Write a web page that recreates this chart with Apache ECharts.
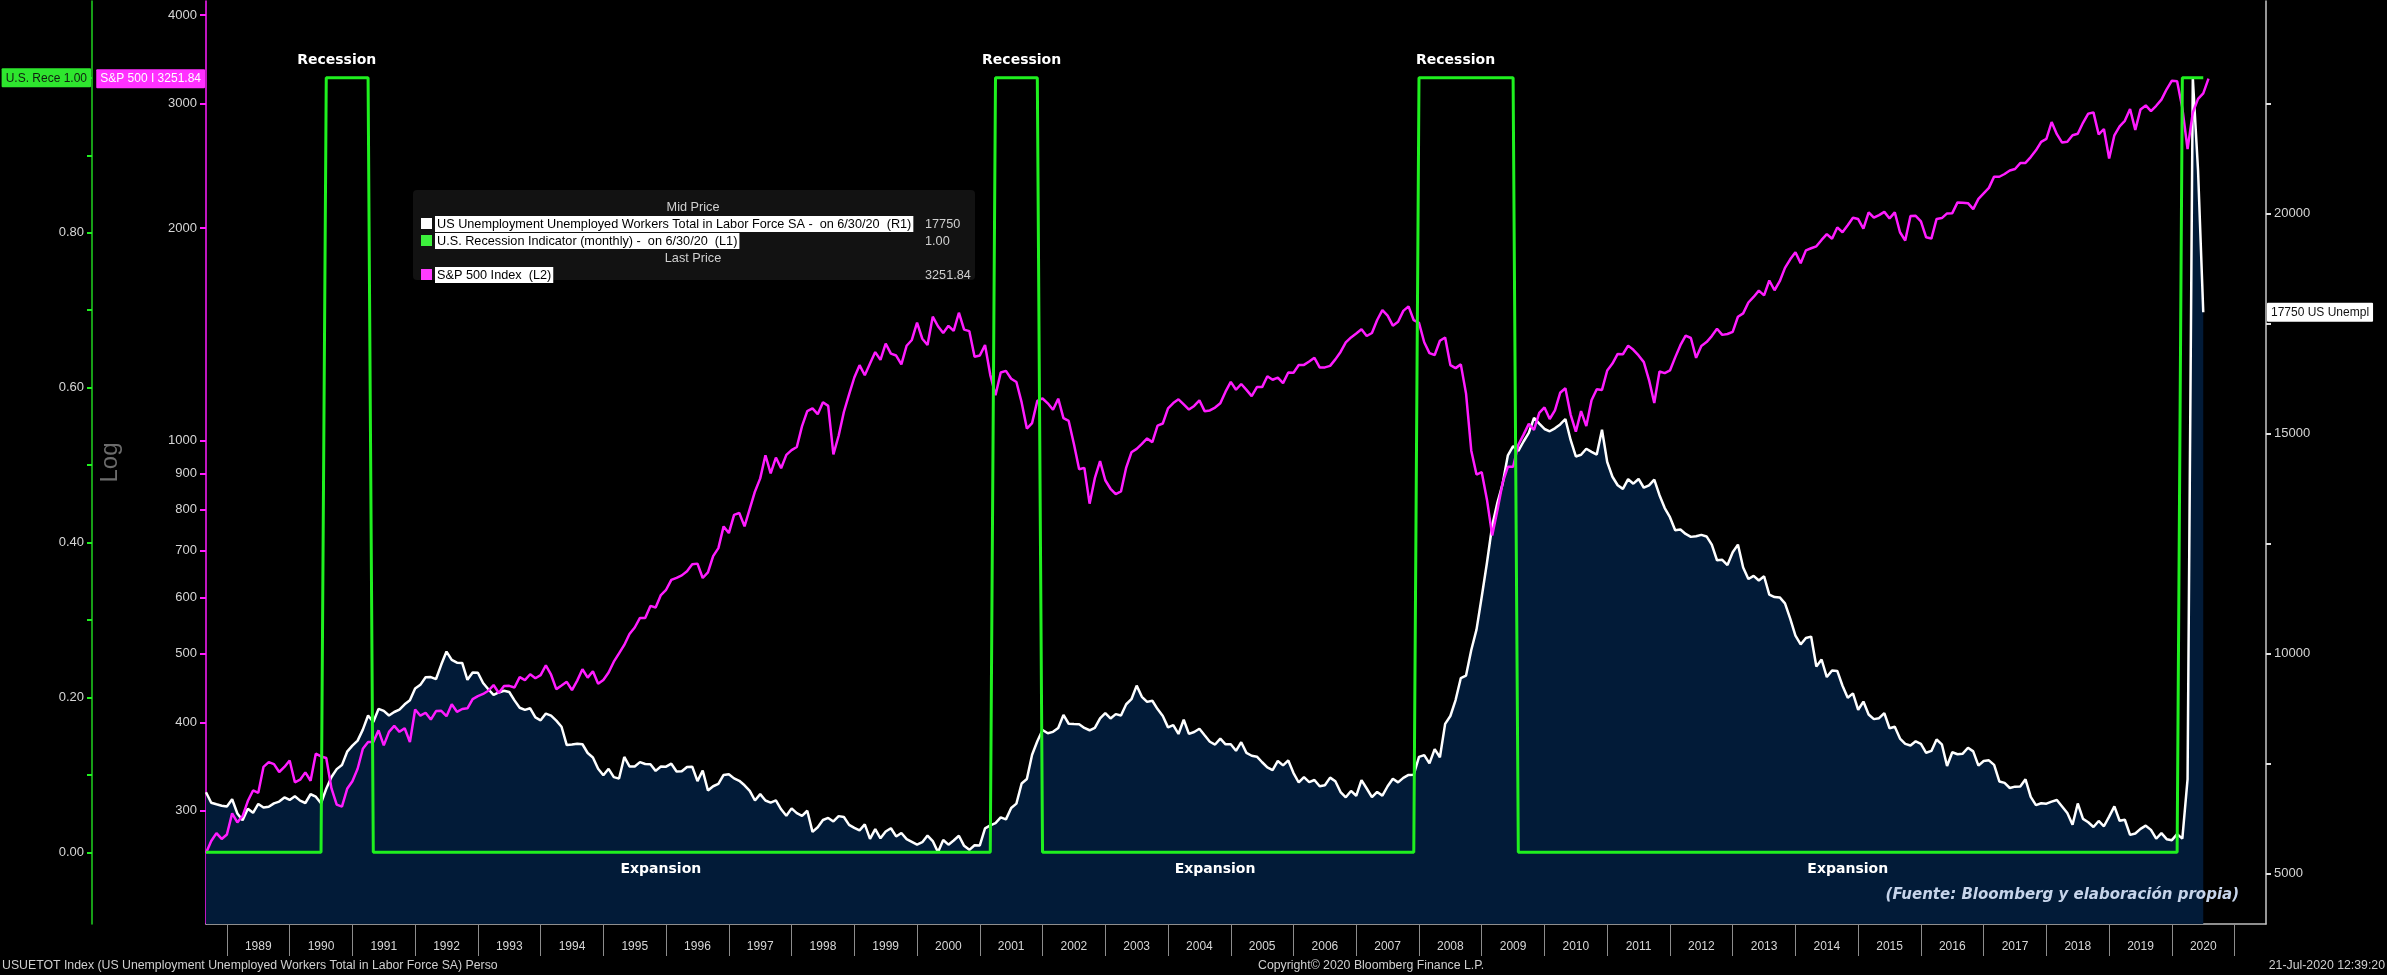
<!DOCTYPE html>
<html>
<head>
<meta charset="utf-8">
<script src="https://cdn.jsdelivr.net/npm/echarts@6/dist/echarts.min.js"></script>
<style>
html,body{margin:0;padding:0;background:#000;}
#chart{width:2387px;height:975px;}
</style>
</head>
<body>
<div id="chart"></div>
<script>
// ---------- categories (monthly, Aug 1988 .. Jun 2021) ----------
const months = [];
(function () {
  let y = 1988, m = 8;
  while (y < 2021 || (y === 2021 && m <= 6)) {
    months.push(y + '-' + String(m).padStart(2, '0'));
    m++; if (m > 12) { m = 1; y++; }
  }
})();

// ---------- series values (monthly, starting Aug 1988) ----------
// US unemployed workers total, thousands (right axis)
const unemployment = [
  6843, 6604, 6568, 6537, 6518,                                             // 1988 Aug-Dec
  6682, 6359, 6205, 6468, 6375, 6577, 6495, 6511, 6590, 6630, 6725, 6667,   // 1989
  6752, 6651, 6598, 6797, 6742, 6590, 6922, 7188, 7368, 7459, 7764, 7901,   // 1990
  8015, 8265, 8586, 8439, 8736, 8692, 8586, 8666, 8722, 8842, 8931, 9198,   // 1991
  9283, 9454, 9460, 9415, 9744, 10040, 9850, 9787, 9781, 9398, 9565, 9557,  // 1992
  9325, 9183, 9056, 9110, 9149, 9121, 8930, 8763, 8714, 8750, 8542, 8477,   // 1993
  8630, 8583, 8470, 8331, 7915, 7927, 7946, 7933, 7734, 7632, 7375, 7230,   // 1994
  7375, 7187, 7153, 7645, 7430, 7427, 7527, 7484, 7478, 7328, 7426, 7423,   // 1995
  7491, 7313, 7318, 7415, 7423, 7095, 7337, 6882, 6979, 7031, 7236, 7253,   // 1996
  7158, 7102, 7000, 6873, 6655, 6799, 6655, 6608, 6656, 6454, 6308, 6476,   // 1997
  6368, 6306, 6422, 5941, 6047, 6212, 6259, 6179, 6300, 6280, 6100, 6032,   // 1998
  5976, 6111, 5783, 6004, 5796, 5951, 6025, 5838, 5915, 5778, 5716, 5653,   // 1999
  5708, 5858, 5733, 5481, 5758, 5651, 5747, 5853, 5625, 5534, 5639, 5634,   // 2000
  6023, 6089, 6141, 6271, 6226, 6484, 6583, 7042, 7142, 7694, 8003, 8258,   // 2001
  8182, 8215, 8304, 8599, 8399, 8393, 8390, 8304, 8251, 8307, 8520, 8640,   // 2002
  8520, 8618, 8588, 8842, 8957, 9266, 9011, 8896, 8921, 8732, 8576, 8317,   // 2003
  8370, 8167, 8491, 8170, 8212, 8286, 8136, 7990, 7927, 8061, 7932, 7934,   // 2004
  7784, 7980, 7737, 7672, 7651, 7524, 7406, 7345, 7553, 7453, 7566, 7279,   // 2005
  7064, 7184, 7072, 7120, 6980, 7001, 7175, 7091, 6847, 6727, 6872, 6762,   // 2006
  7116, 6927, 6731, 6850, 6766, 6979, 7149, 7067, 7170, 7237, 7240, 7645,   // 2007
  7685, 7497, 7822, 7637, 8395, 8575, 8937, 9438, 9494, 10074, 10538, 11286, // 2008
  12058, 12898, 13426, 13853, 14499, 14707, 14601, 14814, 15009, 15352, 15219, 15098, // 2009
  15046, 15113, 15202, 15325, 14849, 14474, 14512, 14648, 14579, 14516, 15081, 14348, // 2010
  14013, 13820, 13737, 13957, 13855, 13962, 13763, 13818, 13948, 13594, 13302, 13093, // 2011
  12797, 12813, 12713, 12646, 12660, 12692, 12656, 12471, 12115, 12124, 12005, 12298, // 2012
  12471, 11950, 11689, 11760, 11654, 11751, 11335, 11279, 11270, 11136, 10787, 10404, // 2013
  10202, 10349, 10380, 9702, 9859, 9460, 9608, 9599, 9262, 8990, 9090, 8717,  // 2014
  8903, 8610, 8504, 8526, 8640, 8297, 8331, 8062, 7942, 7905, 8000, 7942,   // 2015
  7739, 7782, 8040, 7932, 7440, 7751, 7705, 7719, 7854, 7771, 7447, 7552,   // 2016
  7567, 7465, 7087, 7055, 6939, 6970, 6974, 7136, 6738, 6551, 6592, 6582,   // 2017
  6628, 6667, 6520, 6369, 6106, 6587, 6236, 6160, 6052, 6189, 6069, 6287,   // 2018
  6521, 6194, 6217, 5873, 5906, 6011, 6083, 5987, 5786, 5914, 5776, 5753,   // 2019
  5892, 5787, 7140, 23078, 20985, 17750                                     // 2020 Jan-Jun
];

// US recession indicator, monthly (left axis L1)
const recession = [
  0,0,0,0,0,                 // 1988 Aug-Dec
  0,0,0,0,0,0,0,0,0,0,0,0,   // 1989
  0,0,0,0,0,0,1,1,1,1,1,1,   // 1990
  1,1,1,0,0,0,0,0,0,0,0,0,   // 1991
  0,0,0,0,0,0,0,0,0,0,0,0,   // 1992
  0,0,0,0,0,0,0,0,0,0,0,0,   // 1993
  0,0,0,0,0,0,0,0,0,0,0,0,   // 1994
  0,0,0,0,0,0,0,0,0,0,0,0,   // 1995
  0,0,0,0,0,0,0,0,0,0,0,0,   // 1996
  0,0,0,0,0,0,0,0,0,0,0,0,   // 1997
  0,0,0,0,0,0,0,0,0,0,0,0,   // 1998
  0,0,0,0,0,0,0,0,0,0,0,0,   // 1999
  0,0,0,0,0,0,0,0,0,0,0,0,   // 2000
  0,0,1,1,1,1,1,1,1,1,1,0,   // 2001
  0,0,0,0,0,0,0,0,0,0,0,0,   // 2002
  0,0,0,0,0,0,0,0,0,0,0,0,   // 2003
  0,0,0,0,0,0,0,0,0,0,0,0,   // 2004
  0,0,0,0,0,0,0,0,0,0,0,0,   // 2005
  0,0,0,0,0,0,0,0,0,0,0,0,   // 2006
  0,0,0,0,0,0,0,0,0,0,0,1,   // 2007
  1,1,1,1,1,1,1,1,1,1,1,1,   // 2008
  1,1,1,1,1,1,0,0,0,0,0,0,   // 2009
  0,0,0,0,0,0,0,0,0,0,0,0,   // 2010
  0,0,0,0,0,0,0,0,0,0,0,0,   // 2011
  0,0,0,0,0,0,0,0,0,0,0,0,   // 2012
  0,0,0,0,0,0,0,0,0,0,0,0,   // 2013
  0,0,0,0,0,0,0,0,0,0,0,0,   // 2014
  0,0,0,0,0,0,0,0,0,0,0,0,   // 2015
  0,0,0,0,0,0,0,0,0,0,0,0,   // 2016
  0,0,0,0,0,0,0,0,0,0,0,0,   // 2017
  0,0,0,0,0,0,0,0,0,0,0,0,   // 2018
  0,0,0,0,0,0,0,0,0,0,0,0,   // 2019
  0,1,1,1,1,1                // 2020 Jan-Jun
];

// S&P 500 index, month-end (left log axis L2)
const sp500 = [
  261.52, 271.91, 278.97, 273.70, 277.72,                                                         // 1988 Aug-Dec
  297.47, 288.86, 294.87, 309.64, 320.52, 317.98, 346.08, 351.45, 349.15, 340.36, 345.99, 353.40, // 1989
  329.08, 331.89, 339.94, 330.80, 361.23, 358.02, 356.15, 322.56, 306.05, 304.00, 322.22, 330.22, // 1990
  343.93, 367.07, 375.22, 375.34, 389.83, 371.16, 387.81, 395.43, 387.86, 392.46, 375.22, 417.09, // 1991
  408.79, 412.70, 403.69, 414.95, 415.35, 408.14, 424.21, 414.03, 417.80, 418.68, 431.35, 435.71, // 1992
  438.78, 443.38, 451.67, 440.19, 450.19, 450.53, 448.13, 463.56, 458.93, 467.83, 461.79, 466.45, // 1993
  481.61, 467.14, 445.77, 450.91, 456.50, 444.27, 458.26, 475.49, 462.69, 472.35, 453.69, 459.27, // 1994
  470.42, 487.39, 500.71, 514.71, 533.40, 544.75, 562.06, 561.88, 584.41, 581.50, 605.37, 615.93, // 1995
  636.02, 640.43, 645.50, 654.17, 669.12, 670.63, 639.95, 651.99, 687.31, 705.27, 757.02, 740.74, // 1996
  786.16, 790.82, 757.12, 801.34, 848.28, 885.14, 954.29, 899.47, 947.28, 914.62, 955.40, 970.43, // 1997
  980.28, 1049.34, 1101.75, 1111.75, 1090.82, 1133.84, 1120.67, 957.28, 1017.01, 1098.67, 1163.63, 1229.23, // 1998
  1279.64, 1238.33, 1286.37, 1335.18, 1301.84, 1372.71, 1328.72, 1320.41, 1282.71, 1362.93, 1388.91, 1469.25, // 1999
  1394.46, 1366.42, 1498.58, 1452.43, 1420.60, 1454.60, 1430.83, 1517.68, 1436.51, 1429.40, 1314.95, 1320.28, // 2000
  1366.01, 1239.94, 1160.33, 1249.46, 1255.82, 1224.42, 1211.23, 1133.58, 1040.94, 1059.78, 1139.45, 1148.08, // 2001
  1130.20, 1106.73, 1147.39, 1076.92, 1067.14, 989.82, 911.62, 916.07, 815.28, 885.76, 936.31, 879.82,       // 2002
  855.70, 841.15, 848.18, 916.92, 963.59, 974.50, 990.31, 1008.01, 995.97, 1050.71, 1058.20, 1111.92,        // 2003
  1131.13, 1144.94, 1126.21, 1107.30, 1120.68, 1140.84, 1101.72, 1104.24, 1114.58, 1130.20, 1173.82, 1211.92, // 2004
  1181.27, 1203.60, 1180.59, 1156.85, 1191.50, 1191.33, 1234.18, 1220.33, 1228.81, 1207.01, 1249.48, 1248.29, // 2005
  1280.08, 1280.66, 1294.83, 1310.61, 1270.09, 1270.20, 1276.66, 1303.82, 1335.85, 1377.94, 1400.63, 1418.30, // 2006
  1438.24, 1406.82, 1420.86, 1482.37, 1530.62, 1503.35, 1455.27, 1473.99, 1526.75, 1549.38, 1481.14, 1468.36, // 2007
  1378.55, 1330.63, 1322.70, 1385.59, 1400.38, 1280.00, 1267.38, 1282.83, 1166.36, 968.75, 896.24, 903.25,    // 2008
  825.88, 735.09, 797.87, 872.81, 919.14, 919.32, 987.48, 1020.62, 1057.08, 1036.19, 1095.63, 1115.10,        // 2009
  1073.87, 1104.49, 1169.43, 1186.69, 1089.41, 1030.71, 1101.60, 1049.33, 1141.20, 1183.26, 1180.55, 1257.64, // 2010
  1286.12, 1327.22, 1325.83, 1363.61, 1345.20, 1320.64, 1292.28, 1218.89, 1131.42, 1253.30, 1246.96, 1257.60, // 2011
  1312.41, 1365.68, 1408.47, 1397.91, 1310.33, 1362.16, 1379.32, 1406.58, 1440.67, 1412.16, 1416.18, 1426.19, // 2012
  1498.11, 1514.68, 1569.19, 1597.57, 1630.74, 1606.28, 1685.73, 1632.97, 1681.55, 1756.54, 1805.81, 1848.36, // 2013
  1782.59, 1859.45, 1872.34, 1883.95, 1923.57, 1960.23, 1930.67, 2003.37, 1972.29, 2018.05, 2067.56, 2058.90, // 2014
  1994.99, 2104.50, 2067.89, 2085.51, 2107.39, 2063.11, 2103.84, 1972.18, 1920.03, 2079.36, 2080.41, 2043.94, // 2015
  1940.24, 1932.23, 2059.74, 2065.30, 2096.95, 2098.86, 2173.60, 2170.95, 2168.27, 2126.15, 2198.81, 2238.83, // 2016
  2278.87, 2363.64, 2362.72, 2384.20, 2411.80, 2423.41, 2470.30, 2471.65, 2519.36, 2575.26, 2647.58, 2673.61, // 2017
  2823.81, 2713.83, 2640.87, 2648.05, 2705.27, 2718.37, 2816.29, 2901.52, 2913.98, 2711.74, 2760.17, 2506.85, // 2018
  2704.10, 2784.49, 2834.40, 2945.83, 2752.06, 2941.76, 2980.38, 2926.46, 2976.74, 3037.56, 3140.98, 3230.78, // 2019
  3225.52, 2954.22, 2584.59, 2912.43, 3044.31, 3100.29, 3251.84                                               // 2020 Jan-Jul
];

// ---------- tick labels ----------
const recessionTickLabels = [0, 0.2, 0.4, 0.6, 0.8, 1.0];
const recessionTickMarks  = [0, 0.1, 0.2, 0.3, 0.4, 0.5, 0.6, 0.7, 0.8, 0.9, 1.0];
const spTickLabels = [300, 400, 500, 600, 700, 800, 900, 1000, 2000, 3000, 4000];
const unempTickLabels = [5000, 10000, 15000, 20000];
const unempTickMarks  = [5000, 7500, 10000, 12500, 15000, 17500, 20000, 22500];

// ---------- names / annotation texts ----------
const seriesNames = [
  'US Unemployment Unemployed Workers Total in Labor Force SA -  on 6/30/20  (R1)',
  'U.S. Recession Indicator (monthly) -  on 6/30/20  (L1)',
  'S&P 500 Index  (L2)'
];
const recessionLabels = [['1990-09', 'Recession'], ['2001-08', 'Recession'], ['2008-07', 'Recession']];
const expansionLabels = [['1995-11', 'Expansion'], ['2004-09', 'Expansion'], ['2014-10', 'Expansion']];

const FONT = '"Liberation Sans", Arial, sans-serif';
const GREEN = '#1ff01f', MAGENTA = '#ff1cff', WHITE = '#ffffff', FILL = '#021b38';
const LABEL_COLOR = '#d6d6d6';

const lastUnemp = unemployment[unemployment.length - 1];
const lastRec = recession[recession.length - 1];
const lastSp = sp500[sp500.length - 1];

const chart = echarts.init(document.getElementById('chart'), null, { renderer: 'canvas' });

const LEG_FONT = '12.7px ' + FONT;
function legendRow(y, color, name, value) {
  return [
    { type: 'rect', z: 101, shape: { x: 421, y: y - 6, width: 11, height: 11 }, style: { fill: color } },
    { type: 'text', z: 101, x: 435, y: y, style: { text: name, fill: '#000', backgroundColor: '#ffffff', padding: [2, 2, 1, 2],
        font: LEG_FONT, align: 'left', verticalAlign: 'middle', textAlign: 'left', textVerticalAlign: 'middle' } },
    { type: 'text', z: 101, x: 925, y: y, style: { text: value, fill: '#d0d0d0',
        font: LEG_FONT, align: 'left', verticalAlign: 'middle', textAlign: 'left', textVerticalAlign: 'middle' } }
  ];
}
function plainText(x, y, text, opts) {
  return { type: 'text', z: 101, x: x, y: y, style: Object.assign({ text: text, fill: '#d0d0d0', font: LEG_FONT,
    align: 'left', verticalAlign: 'middle', textAlign: 'left', textVerticalAlign: 'middle' }, opts || {}) };
}

const graphics = [
  { type: 'rect', z: 100, shape: { x: 413, y: 190, width: 562, height: 90, r: 4 }, style: { fill: '#121212' } },
  plainText(693, 207, 'Mid Price', { align: 'center', textAlign: 'center' }),
  ...legendRow(224, '#ffffff', seriesNames[0], String(lastUnemp)),
  ...legendRow(241, '#3cf03c', seriesNames[1], lastRec.toFixed(2)),
  plainText(693, 258, 'Last Price', { align: 'center', textAlign: 'center' }),
  ...legendRow(275, '#ff3cff', seriesNames[2], lastSp.toFixed(2)),
  plainText(2239, 895, '(Fuente: Bloomberg y elaboración propia)', { fill: '#c6d4ea', font: 'italic bold 15px "DejaVu Sans", sans-serif', align: 'right', textAlign: 'right' }),
  plainText(2, 966, 'USUETOT Index (US Unemployment Unemployed Workers Total in Labor Force SA) Perso', { fill: '#cfcfcf', font: '12.3px ' + FONT }),
  plainText(1258, 966, 'Copyright\u00a9 2020 Bloomberg Finance L.P.', { fill: '#cfcfcf', font: '12.3px ' + FONT }),
  plainText(2385, 966, '21-Jul-2020 12:39:20', { fill: '#cfcfcf', font: '12.3px ' + FONT, align: 'right', textAlign: 'right' })
];

const pointerLabel = function (value, bg, fg, prefix, digits) {
  return {
    show: true, status: 'show', value: value, type: 'line', triggerTooltip: false, triggerEmphasis: false,
    lineStyle: { opacity: 0 },
    label: {
      show: true, margin: 1, padding: [4, 4, 3, 4], fontSize: 12, fontFamily: FONT,
      backgroundColor: bg, color: fg, borderRadius: 1,
      formatter: function (p) { return prefix(Number(p.value).toFixed(digits)); }
    }
  };
};

const option = {
  backgroundColor: '#000000',
  animation: false,
  textStyle: { fontFamily: FONT },
  grid: { left: 206, right: 121, top: 1, bottom: 51, containLabel: false, outerBoundsMode: 'none' },
  xAxis: {
    type: 'category',
    data: months,
    boundaryGap: false,
    axisLine: { onZero: false, lineStyle: { color: '#bdbdbd', width: 1.5 } },
    axisTick: { show: true, interval: function (i, v) { return v.slice(5) === '12'; }, length: 32, lineStyle: { color: '#8c8c8c', width: 1 } },
    axisLabel: {
      interval: function (i, v) { return v.slice(5) === '06' && v < '2021'; },
      formatter: function (v) { return v.slice(0, 4); },
      color: LABEL_COLOR, fontSize: 12, margin: 17
    },
    splitLine: { show: false }
  },
  yAxis: [
    {
      type: 'value', position: 'left', offset: 114,
      min: -0.0926, max: 1.0992,
      axisLine: { show: true, lineStyle: { color: '#1fd21f', width: 1.5 } },
      axisTick: { show: true, customValues: recessionTickMarks, length: 5, lineStyle: { color: GREEN, width: 2 } },
      axisLabel: { customValues: recessionTickLabels, formatter: function (v) { return Number(v).toFixed(2); }, color: LABEL_COLOR, fontSize: 13, margin: 8 },
      splitLine: { show: false },
      axisPointer: pointerLabel(lastRec, '#2ee62e', '#102010', function (s) { return 'U.S. Rece ' + s; }, 2)
    },
    {
      type: 'log', logBase: 10, position: 'left', offset: 0,
      min: 207.5, max: 4187,
      name: 'Log', nameLocation: 'middle', nameRotate: 90, nameGap: 84,
      nameTextStyle: { color: '#6c6c6c', fontSize: 24, fontFamily: FONT },
      axisLine: { show: true, lineStyle: { color: '#ff1cff', width: 1.5 } },
      axisTick: { show: true, customValues: spTickLabels, length: 6, lineStyle: { color: MAGENTA, width: 2 } },
      axisLabel: { customValues: spTickLabels, showMaxLabel: true, formatter: function (v) { return String(Math.round(v)); }, color: LABEL_COLOR, fontSize: 13, margin: 9 },
      splitLine: { show: false },
      minorTick: { show: false }, minorSplitLine: { show: false },
      axisPointer: pointerLabel(lastSp, '#ff30ff', '#ffffff', function (s) { return 'S&P 500 I ' + s; }, 2)
    },
    {
      type: 'value', position: 'right', offset: 0,
      min: 3848, max: 24825,
      axisLine: { show: true, lineStyle: { color: '#c8c8c8', width: 1.5 } },
      axisTick: { show: true, customValues: unempTickMarks, length: 5, lineStyle: { color: '#e0e0e0', width: 2 } },
      axisLabel: { customValues: unempTickLabels, formatter: function (v) { return String(Math.round(v)); }, color: LABEL_COLOR, fontSize: 13, margin: 8 },
      splitLine: { show: false },
      axisPointer: pointerLabel(lastUnemp, '#ffffff', '#111111', function (s) { return s + ' US Unempl'; }, 0)
    }
  ],
  series: [
    {
      name: seriesNames[0], type: 'line', yAxisIndex: 2, data: unemployment,
      symbol: 'none', showSymbol: false, z: 2,
      lineStyle: { color: WHITE, width: 2.5 },
      areaStyle: { color: FILL, opacity: 1, origin: 'start' }
    },
    {
      name: seriesNames[2], type: 'line', yAxisIndex: 1, data: sp500,
      symbol: 'none', showSymbol: false, z: 3,
      lineStyle: { color: MAGENTA, width: 2.5 }
    },
    {
      name: seriesNames[1], type: 'line', yAxisIndex: 0, data: recession,
      symbol: 'none', showSymbol: false, z: 4,
      lineStyle: { color: GREEN, width: 3 },
      markPoint: {
        symbol: 'circle', symbolSize: 0, silent: true,
        label: { show: true, color: '#ffffff', fontWeight: 'bold', fontSize: 14, fontFamily: '"DejaVu Sans", sans-serif', formatter: '{b}' },
        data: recessionLabels.map(function (d) { return { name: d[1], coord: [d[0], 1], label: { position: 'top', distance: 10 } }; })
          .concat(expansionLabels.map(function (d) { return { name: d[1], coord: [d[0], 0], label: { position: 'bottom', distance: 10 } }; }))
      }
    }
  ],
  graphic: graphics
};

chart.setOption(option);
</script>
</body>
</html>
